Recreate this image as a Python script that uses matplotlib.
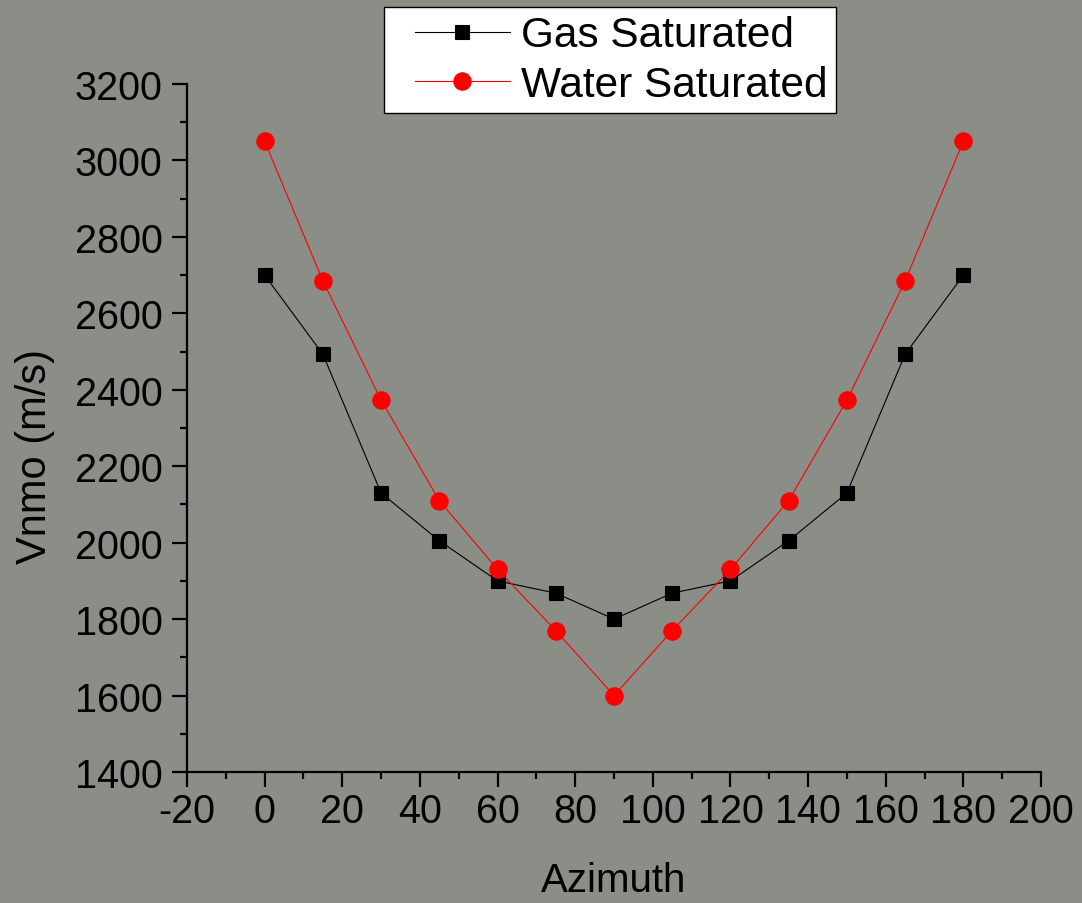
import matplotlib
matplotlib.use("Agg")
import matplotlib.pyplot as plt
from matplotlib.ticker import MultipleLocator
from matplotlib.legend_handler import HandlerLine2D

azimuth = [0, 15, 30, 45, 60, 75, 90, 105, 120, 135, 150, 165, 180]
gas_vnmo = [2700, 2493, 2130, 2005, 1900, 1868, 1800, 1868, 1900, 2005, 2130, 2493, 2700]
water_vnmo = [3050, 2685, 2373, 2110, 1930, 1770, 1600, 1770, 1930, 2110, 2373, 2685, 3050]

bg = "#8a8e86"
plt.rcParams["font.family"] = ["Liberation Sans", "DejaVu Sans"]
plt.rcParams["axes.unicode_minus"] = False

fig = plt.figure(figsize=(10.82, 9.04), dpi=100, facecolor=bg)
ax = fig.add_axes([187 / 1082, 131 / 904, 854 / 1082, 688 / 904])
ax.set_facecolor(bg)

gas_line, = ax.plot(azimuth, gas_vnmo, color="black", lw=0.8, marker="s",
                    ms=10.5, mew=0.8, label="Gas Saturated")
water_line, = ax.plot(azimuth, water_vnmo, color="red", lw=0.8, marker="o",
                      ms=12.5, mew=0.8, label="Water Saturated")

ax.set_xlim(-20, 200)
ax.set_ylim(1400, 3200)
ax.xaxis.set_major_locator(MultipleLocator(20))
ax.xaxis.set_minor_locator(MultipleLocator(10))
ax.yaxis.set_major_locator(MultipleLocator(200))
ax.yaxis.set_minor_locator(MultipleLocator(100))

for s in ["top", "right"]:
    ax.spines[s].set_visible(False)
for s in ["left", "bottom"]:
    ax.spines[s].set_linewidth(1.6)

ax.tick_params(which="major", direction="out", length=10.5, width=1.6,
               labelsize=28.5)
ax.tick_params(axis="y", which="major", pad=7)
ax.tick_params(axis="x", which="major", pad=4)
ax.tick_params(which="minor", direction="out", length=5, width=1.6)

ax.set_xlabel("Azimuth", fontsize=29, labelpad=22)
ax.set_ylabel("Vnmo (m/s)", fontsize=30, labelpad=14)
ax.yaxis.label.set_y(0.46)

handler = {gas_line: HandlerLine2D(numpoints=1, xpad=0.52),
           water_line: HandlerLine2D(numpoints=1, xpad=0.52)}
leg = fig.legend(handles=[gas_line, water_line], handler_map=handler,
                 loc="upper left", bbox_to_anchor=(384 / 1082, 1 - 8 / 904),
                 fontsize=30.5, frameon=True, fancybox=False, framealpha=1,
                 edgecolor="black", handlelength=2.78, borderpad=0.2,
                 labelspacing=0.22, handletextpad=0.26, borderaxespad=0)
leg.get_frame().set_linewidth(1)

fig.savefig("out.png", dpi=100, facecolor=bg)
